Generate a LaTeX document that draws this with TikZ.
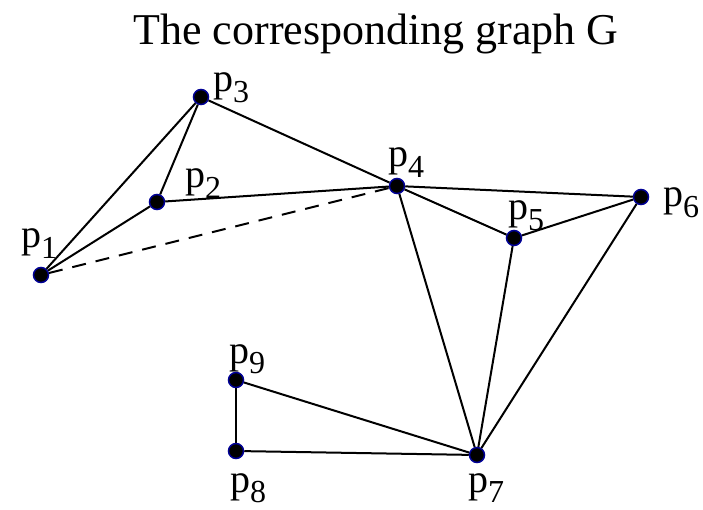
\documentclass[tikz,border=0pt]{standalone}
\usepackage{fontspec}
\setmainfont{Liberation Serif}
\newcommand\plbl[1]{p\raisebox{-10.5pt}{\fontsize{32}{32}\selectfont #1}}
\begin{document}
\begin{tikzpicture}[x=1pt,y=-1pt,
  vtx/.style={circle,fill=black,draw={rgb,255:red,0;green,0;blue,150},line width=1.5pt,minimum size=15pt,inner sep=0pt},
  edge/.style={line width=2pt,black},
  lbl/.style={anchor=base west,inner sep=0pt,font=\fontsize{40}{40}\selectfont}]
\useasboundingbox (0,0) rectangle (703,510);
\node[anchor=base,inner sep=0pt,font=\fontsize{44}{44}\selectfont] (title) at (376,45) {The corresponding graph G};
\node[vtx] (p1) at (41,275) {};
\node[vtx] (p2) at (157,202) {};
\node[vtx] (p3) at (201,97) {};
\node[vtx] (p4) at (397,186) {};
\node[vtx] (p5) at (514,238) {};
\node[vtx] (p6) at (641,197) {};
\node[vtx] (p7) at (477,455) {};
\node[vtx] (p8) at (236,451) {};
\node[vtx] (p9) at (236,380) {};
\draw[edge] (p1) -- (p3);
\draw[edge] (p1) -- (p2);
\draw[edge] (p2) -- (p3);
\draw[edge] (p3) -- (p4);
\draw[edge] (p2) -- (p4);
\draw[edge,dash pattern=on 14pt off 10pt] (p1) -- (p4);
\draw[edge] (p4) -- (p6);
\draw[edge] (p4) -- (p5);
\draw[edge] (p5) -- (p6);
\draw[edge] (p4) -- (p7);
\draw[edge] (p5) -- (p7);
\draw[edge] (p6) -- (p7);
\draw[edge] (p9) -- (p7);
\draw[edge] (p8) -- (p7);
\draw[edge] (p8) -- (p9);
\node[lbl] (l1) at (21,248) {\plbl{1}};
\node[lbl] (l2) at (185,188) {\plbl{2}};
\node[lbl] (l3) at (213,92) {\plbl{3}};
\node[lbl] (l4) at (388,167) {\plbl{4}};
\node[lbl] (l5) at (508,220) {\plbl{5}};
\node[lbl] (l6) at (663,207) {\plbl{6}};
\node[lbl] (l7) at (468,492) {\plbl{7}};
\node[lbl] (l8) at (230,492) {\plbl{8}};
\node[lbl] (l9) at (229,363) {\plbl{9}};
\end{tikzpicture}
\end{document}
